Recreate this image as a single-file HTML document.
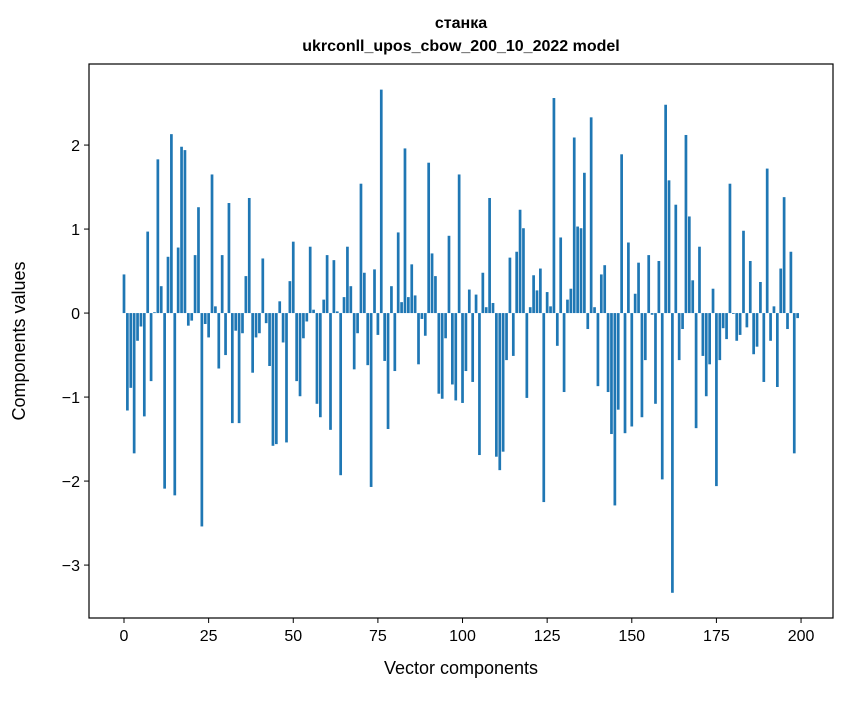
<!DOCTYPE html>
<html><head><meta charset="utf-8"><style>
body{margin:0;background:#fff;}
svg text{font-family:"Liberation Sans","DejaVu Sans",sans-serif;fill:#000;}
</style></head><body>
<svg id="chart" width="847" height="696" xmlns="http://www.w3.org/2000/svg">
<rect width="847" height="696" fill="#fff"/>
<text x="461" y="28" text-anchor="middle" font-size="16" font-weight="bold">станка</text>
<text x="461" y="51" text-anchor="middle" font-size="16" font-weight="bold">ukrconll_upos_cbow_200_10_2022 model</text>
<g id="bars"></g>
<g id="xticks"></g>
<g id="yticks"></g>
<rect x="89" y="64" width="744" height="554" fill="none" stroke="#000" stroke-width="1.2"/>
<text x="461" y="674" text-anchor="middle" font-size="18">Vector components</text>
<text transform="translate(25,341) rotate(-90)" text-anchor="middle" font-size="18">Components values</text>
</svg>
<script>
const values = [0.46,-1.16,-0.89,-1.67,-0.33,-0.16,-1.23,0.97,-0.81,0.01,1.83,0.32,-2.09,0.67,2.13,-2.17,0.78,1.98,1.94,-0.15,
-0.09,0.69,1.26,-2.54,-0.13,-0.29,1.65,0.08,-0.66,0.69,-0.50,1.31,-1.31,-0.21,-1.31,-0.24,0.44,1.37,-0.71,-0.29,
-0.24,0.65,-0.12,-0.63,-1.58,-1.56,0.14,-0.35,-1.54,0.38,0.85,-0.81,-0.99,-0.30,-0.10,0.79,0.04,-1.08,-1.24,0.16,
0.69,-1.39,0.63,0.02,-1.93,0.19,0.79,0.32,-0.67,-0.24,1.54,0.48,-0.62,-2.07,0.52,-0.26,2.66,-0.57,-1.38,0.32,
-0.69,0.96,0.13,1.96,0.19,0.58,0.21,-0.61,-0.07,-0.27,1.79,0.71,0.44,-0.96,-1.02,-0.30,0.92,-0.85,-1.04,1.65,
-1.07,-0.69,0.28,-0.82,0.22,-1.69,0.48,0.07,1.37,0.12,-1.71,-1.87,-1.65,-0.56,0.66,-0.51,0.73,1.23,1.01,-1.01,
0.07,0.45,0.27,0.53,-2.25,0.25,0.08,2.56,-0.39,0.90,-0.94,0.16,0.29,2.09,1.03,1.01,1.67,-0.19,2.33,0.07,
-0.87,0.46,0.57,-0.94,-1.44,-2.29,-1.15,1.89,-1.43,0.84,-1.35,0.23,0.60,-1.24,-0.56,0.69,-0.02,-1.08,0.62,-1.98,
2.48,1.58,-3.33,1.29,-0.56,-0.19,2.12,1.15,0.39,-1.37,0.79,-0.51,-0.99,-0.61,0.29,-2.06,-0.56,-0.18,-0.31,1.54,
-0.01,-0.33,-0.26,0.98,-0.17,0.62,-0.49,-0.40,0.37,-0.82,1.72,-0.33,0.08,-0.88,0.53,1.38,-0.19,0.73,-1.67,-0.06];
const xTickValues = [0,25,50,75,100,125,150,175,200];
const yTickValues = [-3,-2,-1,0,1,2];
const yTickLabels = ["\u22123","\u22122","\u22121","0","1","2"];

const X0=89,X1=833,Y0=64,Y1=618;
const xMin=-10.34,xMax=209.44,yMin=-3.63,yMax=2.965;
function xs(v){return X0+(v-xMin)/(xMax-xMin)*(X1-X0);}
function ys(v){return Y1-(v-yMin)/(yMax-yMin)*(Y1-Y0);}
const NS="http://www.w3.org/2000/svg";
const bars=document.getElementById('bars');
values.forEach((v,i)=>{
  const r=document.createElementNS(NS,'rect');
  
  
  const a=xs(i-0.4),b=xs(i+0.4);
  const y1=ys(Math.max(v,0)),y2=ys(Math.min(v,0));
  r.setAttribute('x',a);r.setAttribute('width',b-a);
  r.setAttribute('y',y1);r.setAttribute('height',Math.max(y2-y1,0.3));
  r.setAttribute('fill','#1f77b4');
  bars.appendChild(r);
});
const xt=document.getElementById('xticks');
xTickValues.forEach(t=>{
  const x=xs(t);
  const l=document.createElementNS(NS,'line');
  
  
  l.setAttribute('x1',x);l.setAttribute('x2',x);l.setAttribute('y1',Y1);l.setAttribute('y2',Y1+5);
  l.setAttribute('stroke','#000');xt.appendChild(l);
  const tx=document.createElementNS(NS,'text');
  
  
  tx.setAttribute('x',x);tx.setAttribute('y',Y1+23);tx.setAttribute('text-anchor','middle');tx.setAttribute('font-size','16');
  tx.textContent=t;xt.appendChild(tx);
});
const yt=document.getElementById('yticks');
yTickValues.forEach((t,i)=>{
  const y=ys(t);
  const l=document.createElementNS(NS,'line');
  
  
  l.setAttribute('x1',X0-5);l.setAttribute('x2',X0);l.setAttribute('y1',y);l.setAttribute('y2',y);
  l.setAttribute('stroke','#000');yt.appendChild(l);
  const tx=document.createElementNS(NS,'text');
  
  
  tx.setAttribute('x',X0-9);tx.setAttribute('y',y+6);tx.setAttribute('text-anchor','end');tx.setAttribute('font-size','16');
  tx.textContent=yTickLabels[i];yt.appendChild(tx);
});
</script>
</body></html>
